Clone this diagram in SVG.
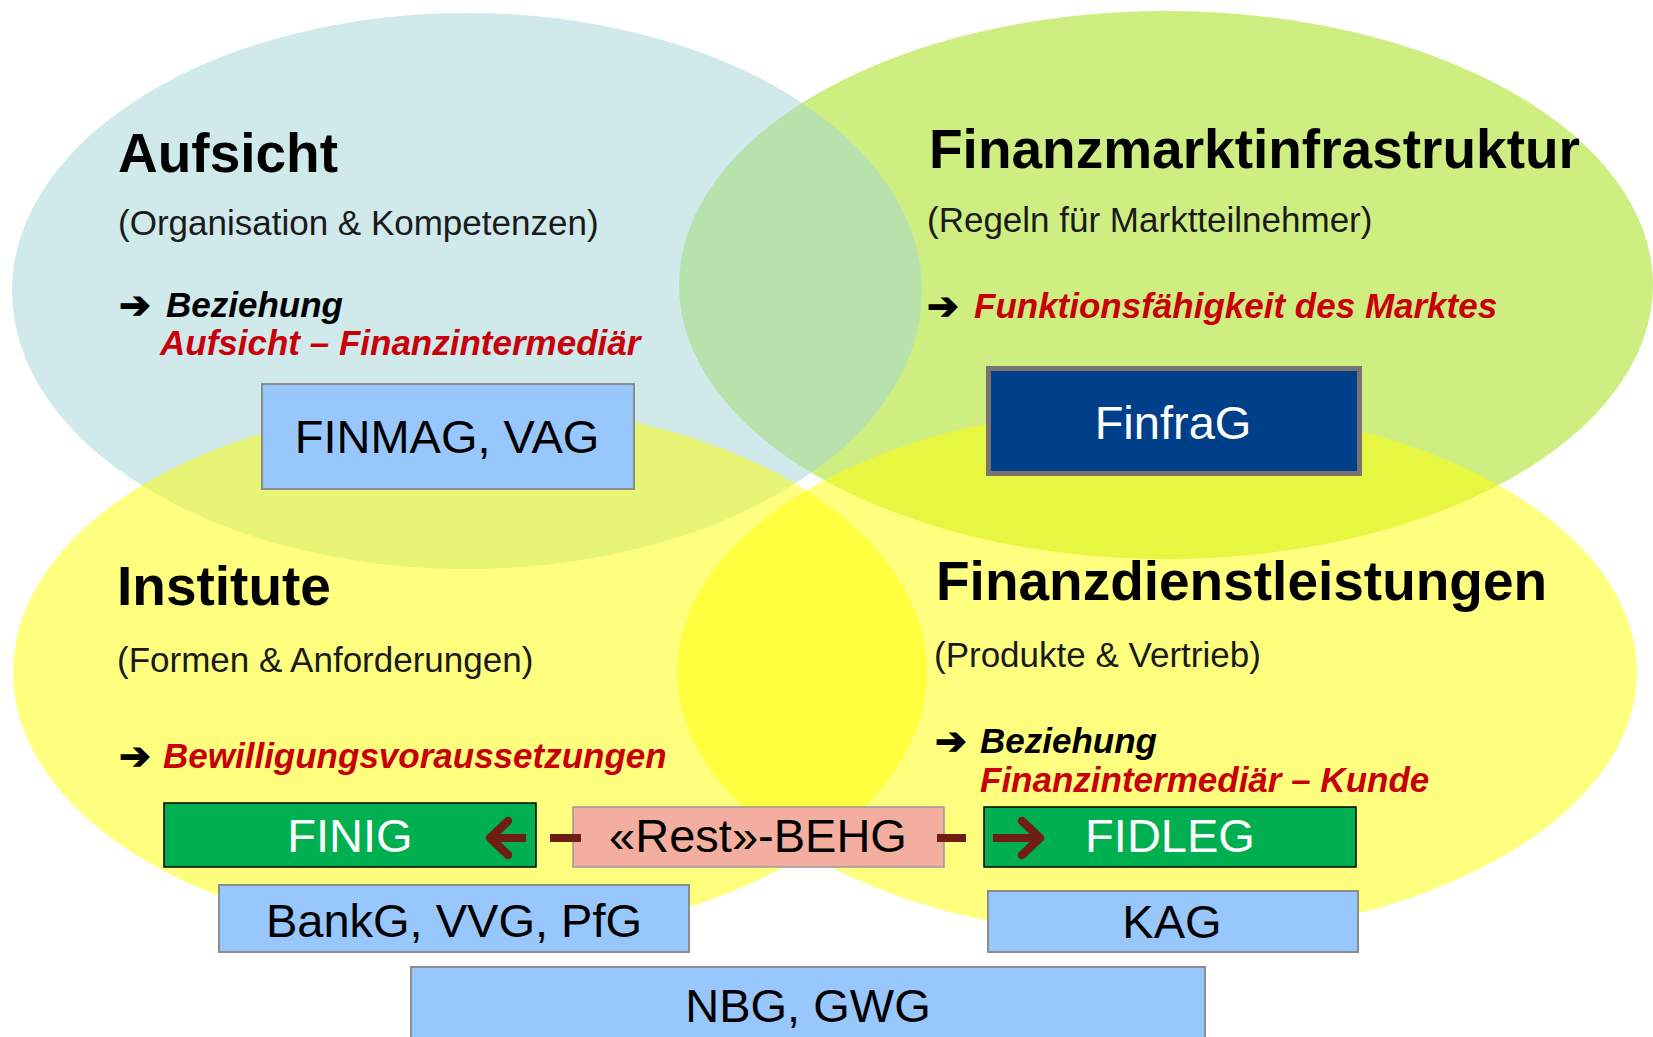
<svg xmlns="http://www.w3.org/2000/svg" width="1653" height="1037" viewBox="0 0 1653 1037">
<defs>
<style>
.title{font-family:"Liberation Sans",Arial,sans-serif;font-weight:bold;font-size:55px;fill:#000}
.sub{font-family:"Liberation Sans",Arial,sans-serif;font-size:35px;fill:#1a1a1a}
.em{font-family:"Liberation Sans",Arial,sans-serif;font-weight:bold;font-style:italic;font-size:35px;fill:#000}
.red{font-family:"Liberation Sans",Arial,sans-serif;font-weight:bold;font-style:italic;font-size:35px;fill:#c8000a}
.arr{font-family:"DejaVu Sans",sans-serif;font-size:38px;fill:#000;stroke:#000;stroke-width:1.2}
.box{font-family:"Liberation Sans",Arial,sans-serif;font-size:47px;text-anchor:middle}
.lb{fill:#97c7fd;stroke:#8c8c8c;stroke-width:2}
.gr{fill:#00b050;stroke:#000;stroke-width:1.5}
.conn{fill:none;stroke:#701e12;stroke-width:8}
</style>
<marker id="chev" markerUnits="userSpaceOnUse" markerWidth="34" markerHeight="44" viewBox="0 0 34 44" refX="28" refY="22" orient="auto">
<path d="M10,5 L28,22 L10,39" fill="none" stroke="#701e12" stroke-width="8.5" stroke-linecap="round" stroke-linejoin="round"/>
</marker>
</defs>
<rect width="1653" height="1037" fill="#fff"/>
<g id="ellipses">
<ellipse cx="1166" cy="285" rx="487" ry="274" fill="#9ddd05" fill-opacity="0.5"/>
<ellipse cx="467" cy="291" rx="455" ry="278" fill="#a1d3d5" fill-opacity="0.5"/>
<ellipse cx="470" cy="672" rx="457" ry="268" fill="#ffff00" fill-opacity="0.5"/>
<ellipse cx="1157" cy="672" rx="480" ry="266" fill="#ffff00" fill-opacity="0.5"/>
</g>
<g id="aufsicht">
<text class="title" x="118" y="172">Aufsicht</text>
<text class="sub" x="118" y="235">(Organisation &amp; Kompetenzen)</text>
<text class="arr" x="119" y="318">➔</text>
<text class="em" x="166" y="317">Beziehung</text>
<text class="red" x="160" y="355">Aufsicht – Finanzintermediär</text>
</g>
<g id="finmag">
<rect class="lb" x="262" y="384" width="372" height="105"/>
<text class="box" x="447" y="453" font-size="46">FINMAG, VAG</text>
</g>
<g id="fmi">
<text class="title" x="929" y="168">Finanzmarktinfrastruktur</text>
<text class="sub" x="927" y="232">(Regeln für Marktteilnehmer)</text>
<text class="arr" x="927" y="319">➔</text>
<text class="red" x="974" y="318">Funktionsfähigkeit des Marktes</text>
</g>
<g id="finfrag">
<rect x="988.5" y="368.5" width="371" height="105" fill="#00408a" stroke="#787370" stroke-width="5"/>
<text class="box" x="1173" y="439" font-size="46" fill="#fff">FinfraG</text>
</g>
<g id="institute">
<text class="title" x="117" y="605">Institute</text>
<text class="sub" x="117" y="672">(Formen &amp; Anforderungen)</text>
<text class="arr" x="119" y="769">➔</text>
<text class="red" x="163" y="768">Bewilligungsvoraussetzungen</text>
</g>
<g id="fdl">
<text class="title" x="936" y="600">Finanzdienstleistungen</text>
<text class="sub" x="934" y="667">(Produkte &amp; Vertrieb)</text>
<text class="arr" x="935" y="754">➔</text>
<text class="em" x="980" y="753">Beziehung</text>
<text class="red" x="980" y="792">Finanzintermediär – Kunde</text>
</g>
<g id="finig">
<rect class="gr" x="164" y="803" width="372" height="64"/>
<text class="box" x="350" y="852" fill="#fff">FINIG</text>
</g>
<g id="behg">
<rect x="573" y="807" width="371" height="60" fill="#f3ae9f" stroke="#999" stroke-width="1.5"/>
<text class="box" x="758" y="852" fill="#000">«Rest»-BEHG</text>
</g>
<g id="fidleg">
<rect class="gr" x="984" y="807" width="372" height="60"/>
<text class="box" x="1170" y="852" fill="#fff">FIDLEG</text>
</g>
<g id="bankg">
<rect class="lb" x="219" y="885" width="470" height="67"/>
<text class="box" x="454" y="937" fill="#000">BankG, VVG, PfG</text>
</g>
<g id="kag">
<rect class="lb" x="988" y="891" width="370" height="61"/>
<text class="box" x="1172" y="938" fill="#000">KAG</text>
</g>
<g id="nbg">
<rect class="lb" x="411" y="967" width="794" height="80"/>
<text class="box" x="808" y="1022" fill="#000">NBG, GWG</text>
</g>
<g id="connectors">
<path class="conn" d="M581,838 L490,838" stroke-dasharray="31 24 200" marker-end="url(#chev)"/>
<path class="conn" d="M937,838 L1040,838" stroke-dasharray="29 27 200" marker-end="url(#chev)"/>
</g>
</svg>
